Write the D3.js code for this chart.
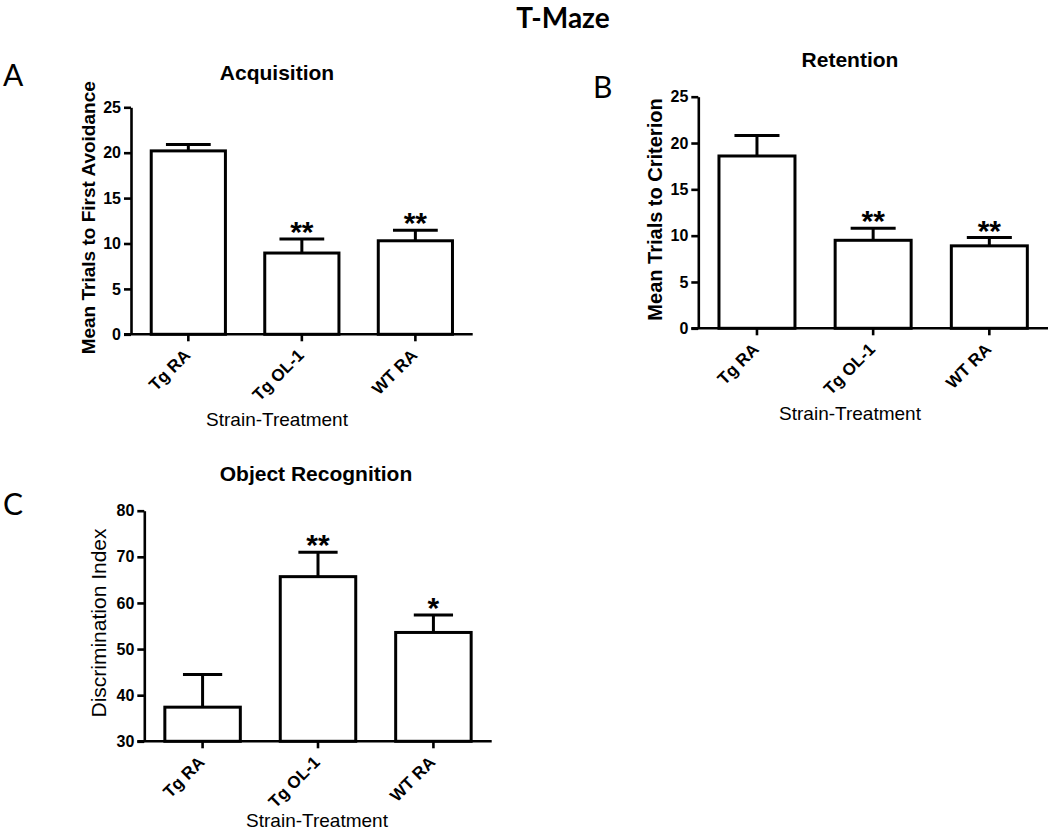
<!DOCTYPE html>
<html>
<head>
<meta charset="utf-8">
<script src="https://cdn.jsdelivr.net/npm/d3@7"></script>
<style>
  html, body { margin: 0; padding: 0; background: #fff; }
  svg { display: block; }
</style>
</head>
<body>
<svg id="chart" width="1050" height="833"></svg>
<script>
// ---------- data ----------
const categories = ["Tg RA", "Tg OL-1", "WT RA"];

const acquisitionMean = [20.2, 8.95, 10.3];
const acquisitionErr  = [0.7, 1.55, 1.15];
const acquisitionSig  = ["", "**", "**"];

const retentionMean = [18.6, 9.5, 8.9];
const retentionErr  = [2.2, 1.3, 0.9];
const retentionSig  = ["", "**", "**"];

const recognitionMean = [37.4, 65.7, 53.6];
const recognitionErr  = [7.1, 5.3, 3.8];
const recognitionSig  = ["", "**", "*"];

const trialTicks = [0, 5, 10, 15, 20, 25];
const indexTicks = [30, 40, 50, 60, 70, 80];

// ---------- layout ----------
const panels = [
  { letter: "A", lx: 3, ly: 86, title: "Acquisition", tx: 277, ty: 80,
    yTitle: "Mean Trials to First Avoidance", yTitleX: 95, yTitleBold: true, yTitleSize: 19,
    x0: 131, x1: 472.7, y0: 334.3, y1: 107.3, domain: [0, 25], ticks: trialTicks,
    mean: acquisitionMean, err: acquisitionErr, sig: acquisitionSig, cap: 0.58, xtx: 277, xty: 92 },
  { letter: "B", lx: 593, ly: 98, title: "Retention", tx: 850, ty: 67,
    yTitle: "Mean Trials to Criterion", yTitleX: 662, yTitleBold: true, yTitleSize: 20,
    x0: 698.3, x1: 1048, y0: 328.3, y1: 96.7, domain: [0, 25], ticks: trialTicks,
    mean: retentionMean, err: retentionErr, sig: retentionSig, cap: 0.57, xtx: 850, xty: 92 },
  { letter: "C", lx: 3, ly: 515, title: "Object Recognition", tx: 316, ty: 481,
    yTitle: "Discrimination Index", yTitleX: 106, yTitleBold: false, yTitleSize: 21,
    x0: 144.3, x1: 491.7, y0: 741.3, y1: 510.7, domain: [30, 80], ticks: indexTicks,
    mean: recognitionMean, err: recognitionErr, sig: recognitionSig, cap: 0.5, xtx: 317, xty: 86 }
];

const svg = d3.select("#chart");
const FONT = "'Liberation Sans', Arial, sans-serif";

svg.append("text")
  .attr("x", 563).attr("y", 28)
  .attr("text-anchor", "middle")
  .attr("font-family", "Lato, 'Liberation Sans', sans-serif")
  .attr("font-weight", "bold")
  .attr("font-size", 28)
  .text("T-Maze");

panels.forEach(p => {
  const g = svg.append("g");

  const x = d3.scaleBand().domain(categories).range([p.x0, p.x1])
    .paddingInner(0.32).paddingOuter(0.165);
  const y = d3.scaleLinear().domain(p.domain).range([p.y0, p.y1]);

  // panel letter
  g.append("text").attr("x", p.lx).attr("y", p.ly)
    .attr("font-family", "Lato, 'Liberation Sans', sans-serif")
    .attr("font-size", 30).text(p.letter);

  // title
  g.append("text").attr("x", p.tx).attr("y", p.ty)
    .attr("text-anchor", "middle")
    .attr("font-family", FONT).attr("font-weight", "bold")
    .attr("font-size", 21).text(p.title);

  // bars
  const data = categories.map((c, i) => ({ c, m: p.mean[i], e: p.err[i], s: p.sig[i] }));
  g.selectAll("rect.bar").data(data).enter().append("rect")
    .attr("class", "bar")
    .attr("x", d => x(d.c) + 1.5)
    .attr("width", x.bandwidth() - 3)
    .attr("y", d => y(d.m))
    .attr("height", d => y(p.domain[0]) - y(d.m))
    .attr("fill", "#fff").attr("stroke", "#000").attr("stroke-width", 3);

  // error bars (upper only)
  const cx = d => x(d.c) + x.bandwidth() / 2;
  const half = x.bandwidth() * p.cap / 2;
  g.selectAll("line.stem").data(data).enter().append("line")
    .attr("x1", cx).attr("x2", cx)
    .attr("y1", d => y(d.m)).attr("y2", d => y(d.m + d.e))
    .attr("stroke", "#000").attr("stroke-width", 3);
  g.selectAll("line.cap").data(data).enter().append("line")
    .attr("x1", d => cx(d) - half).attr("x2", d => cx(d) + half)
    .attr("y1", d => y(d.m + d.e)).attr("y2", d => y(d.m + d.e))
    .attr("stroke", "#000").attr("stroke-width", 3);

  // significance stars
  g.selectAll("text.sig").data(data.filter(d => d.s)).enter().append("text")
    .attr("x", cx).attr("y", d => y(d.m + d.e) + 3)
    .attr("text-anchor", "middle")
    .attr("font-family", FONT).attr("font-weight", "bold")
    .attr("font-size", 30).text(d => d.s);

  // y axis
  const yAxis = d3.axisLeft(y).tickValues(p.ticks).tickSize(7).tickSizeOuter(0).tickPadding(3);
  const ya = g.append("g").attr("transform", `translate(${p.x0},0)`).call(yAxis);
  ya.select(".domain").attr("stroke-width", 2.6);
  ya.selectAll(".tick line").attr("stroke-width", 2.6);
  ya.selectAll(".tick text").attr("font-family", FONT).attr("font-weight", "bold")
    .attr("font-size", 16).attr("fill", "#000");

  // x axis
  const xAxis = d3.axisBottom(x).tickSize(7).tickSizeOuter(0).tickFormat("");
  const xa = g.append("g").attr("transform", `translate(0,${p.y0})`).call(xAxis);
  xa.select(".domain").attr("stroke-width", 2.6)
    .attr("d", `M${p.x0 - 7},0H${p.x1}`);
  xa.selectAll(".tick line").attr("stroke-width", 2.6);

  // rotated category labels
  g.selectAll("text.cat").data(categories).enter().append("text")
    .attr("transform", c => `translate(${x(c) + x.bandwidth() / 2 + 3},${p.y0 + 22}) rotate(-45)`)
    .attr("text-anchor", "end")
    .attr("font-family", FONT).attr("font-weight", "bold")
    .attr("font-size", 17).text(c => c);

  // x axis title
  g.append("text").attr("x", p.xtx).attr("y", p.y0 + p.xty)
    .attr("text-anchor", "middle")
    .attr("font-family", FONT).attr("font-size", 19)
    .text("Strain-Treatment");

  // y axis title
  const ymid = (p.y0 + p.y1) / 2 - 3;
  g.append("text")
    .attr("transform", `translate(${p.yTitleX},${ymid}) rotate(-90)`)
    .attr("text-anchor", "middle")
    .attr("font-family", FONT)
    .attr("font-weight", p.yTitleBold ? "bold" : "normal")
    .attr("font-size", p.yTitleSize)
    .text(p.yTitle);
});
</script>
</body>
</html>
